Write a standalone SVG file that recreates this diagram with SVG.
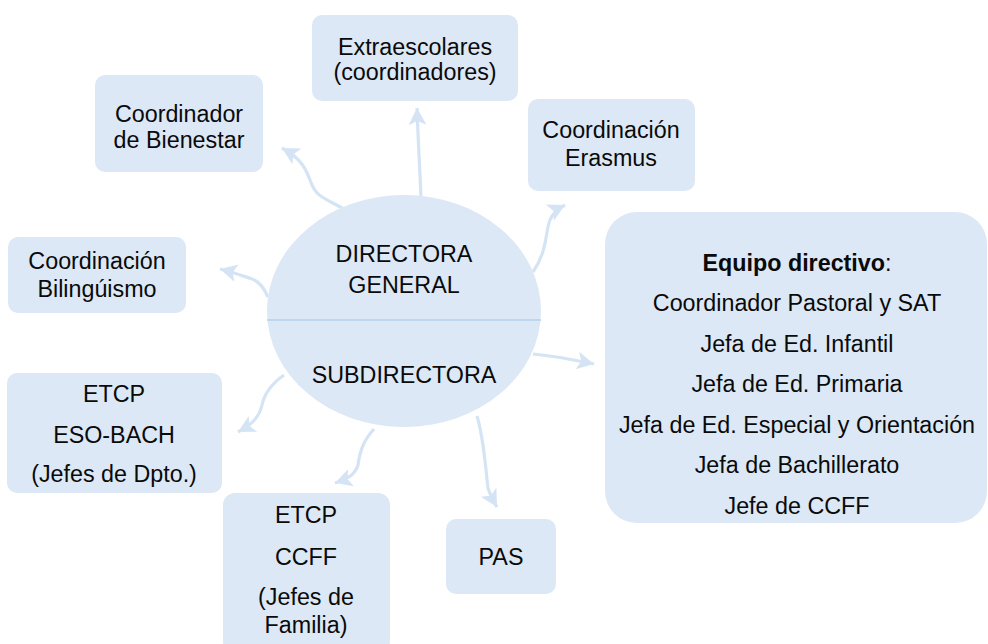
<svg xmlns="http://www.w3.org/2000/svg" width="988" height="644" viewBox="0 0 988 644">
<style>
.box{fill:#dce8f5;}
.t{font-family:"Liberation Sans",Arial,sans-serif;font-size:23.3px;fill:#0a0a0a;text-anchor:middle;}
.c{fill:none;stroke:#d5e4f4;stroke-width:3.2;}
</style>
<defs>
<marker id="ah" markerUnits="userSpaceOnUse" markerWidth="20" markerHeight="20" refX="17" refY="9" orient="auto">
<path d="M0,0 L17,9 L0,18 L4,9 Z" fill="#d5e4f4"/>
</marker>
</defs>
<rect width="988" height="644" fill="#ffffff"/>
<g id="connectors">
<path class="c" marker-end="url(#ah)" d="M344,209 C325,198 316,198 310,180 C304,163 296,156 282,148"/>
<path class="c" marker-end="url(#ah)" d="M421,198 C420,170 418,140 417,108"/>
<path class="c" marker-end="url(#ah)" d="M533,272 C548,250 545,232 550,220 C553,213 557,209 565,205"/>
<path class="c" marker-end="url(#ah)" d="M268,297 C264,288 260,282 252,279 C240,275 232,272 220,269"/>
<path class="c" marker-end="url(#ah)" d="M533,354 C555,356 575,360 594,364"/>
<path class="c" marker-end="url(#ah)" d="M477,416 C484,440 485,463 488,488 C490,495 493,500 497,507"/>
<path class="c" marker-end="url(#ah)" d="M374,429 C364,440 360,450 358,465 C355,475 347,479 335,483"/>
<path class="c" marker-end="url(#ah)" d="M284,375 C270,385 264,395 262,405 C259,418 251,425 238,432"/>
</g>
<g id="center">
<ellipse cx="404" cy="311" rx="137" ry="116" class="box"/>
<line x1="267" y1="320" x2="541" y2="320" stroke="#9dc3e6" stroke-width="1.2"/>
<text class="t" x="404" y="262">DIRECTORA</text>
<text class="t" x="404" y="293">GENERAL</text>
<text class="t" x="404" y="383">SUBDIRECTORA</text>
</g>
<g id="extraescolares">
<rect class="box" x="312" y="15" width="206" height="86" rx="10"/>
<text class="t" x="415" y="55">Extraescolares</text>
<text class="t" x="415" y="80">(coordinadores)</text>
</g>
<g id="bienestar">
<rect class="box" x="95" y="75" width="168" height="97" rx="10"/>
<text class="t" x="179" y="122">Coordinador</text>
<text class="t" x="179" y="148">de Bienestar</text>
</g>
<g id="erasmus">
<rect class="box" x="528" y="99" width="167" height="92" rx="10"/>
<text class="t" x="611" y="138">Coordinación</text>
<text class="t" x="611" y="166">Erasmus</text>
</g>
<g id="bilinguismo">
<rect class="box" x="8" y="237" width="178" height="76" rx="10"/>
<text class="t" x="97" y="269">Coordinación</text>
<text class="t" x="97" y="297">Bilingúismo</text>
</g>
<g id="etcp-eso">
<rect class="box" x="7" y="373" width="215" height="120" rx="10"/>
<text class="t" x="114" y="402">ETCP</text>
<text class="t" x="114" y="443">ESO-BACH</text>
<text class="t" x="114" y="482">(Jefes de Dpto.)</text>
</g>
<g id="etcp-ccff">
<rect class="box" x="223" y="493" width="167" height="160" rx="12"/>
<text class="t" x="306" y="523">ETCP</text>
<text class="t" x="306" y="565">CCFF</text>
<text class="t" x="306" y="605">(Jefes de</text>
<text class="t" x="306" y="633">Familia)</text>
</g>
<g id="pas">
<rect class="box" x="446" y="519" width="110" height="75" rx="10"/>
<text class="t" x="501" y="565">PAS</text>
</g>
<g id="equipo">
<rect class="box" x="605" y="212" width="382" height="311" rx="32"/>
<text class="t" x="797" y="271"><tspan font-weight="bold">Equipo directivo</tspan>:</text>
<text class="t" x="797" y="311">Coordinador Pastoral y SAT</text>
<text class="t" x="797" y="352">Jefa de Ed. Infantil</text>
<text class="t" x="797" y="392">Jefa de Ed. Primaria</text>
<text class="t" x="797" y="433">Jefa de Ed. Especial y Orientación</text>
<text class="t" x="797" y="473">Jefa de Bachillerato</text>
<text class="t" x="797" y="514">Jefe de CCFF</text>
</g>
</svg>
